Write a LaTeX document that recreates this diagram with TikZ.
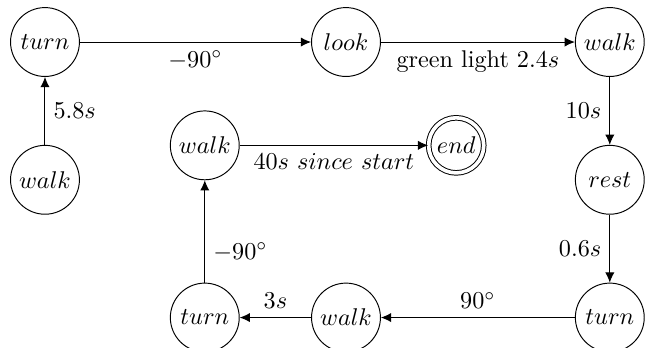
\documentclass[tikz,border=0pt]{standalone}
\usepackage{amsmath}
\usepackage{tikz}
\usetikzlibrary{arrows,arrows.meta,positioning,calc}

\begin{document}
\begin{tikzpicture}[>={Latex[length=4.2pt,width=3.8pt]},
        state/.style={draw,circle,minimum size=1cm,inner sep=1pt},
        final/.style={draw,circle,double,double distance=1.5pt,minimum size=0.8cm,inner sep=1pt}]
                \useasboundingbox (-0.653,-4.43) rectangle (8.74,0.61);
                \node[state] (turnA) at (0,0) {$turn$};
                \node[state] (walkA) at (0,-2) {$walk$};
                \node[state] (look) at (4.37,0) {$look$};
                \node[state] (walkB) at (8.2,0) {$walk$};
                \node[state] (rest) at (8.2,-2) {$rest$};
                \node[state] (turnB) at (8.2,-4) {$turn$};
                \node[state] (walkC) at (4.37,-4) {$walk$};
                \node[state] (turnC) at (2.32,-4) {$turn$};
                \node[state] (walkD) at (2.32,-1.5) {$walk$};
                \node[final] (end) at (5.97,-1.5) {$end$};
                \draw[->] (walkA) -- node[right] {$5.8s$} (turnA);
                \draw[->] (turnA) -- node[below] {$-90^\circ$} (look);
                \draw[->] (look) -- node[below] {green light $2.4s$} (walkB);
                \draw[->] (walkB) -- node[left] {$10s$} (rest);
                \draw[->] (rest) -- node[left] {$0.6s$} (turnB);
                \draw[->] (turnB) -- node[above] {$90^\circ$} (walkC);
                \draw[->] (walkC) -- node[above] {$3s$} (turnC);
                \draw[->] (turnC) -- node[right,pos=0.3] {$-90^\circ$} (walkD);
                \draw[->] (walkD) -- node[below] {$40s~since~start$} (end);
            \end{tikzpicture}
\end{document}
